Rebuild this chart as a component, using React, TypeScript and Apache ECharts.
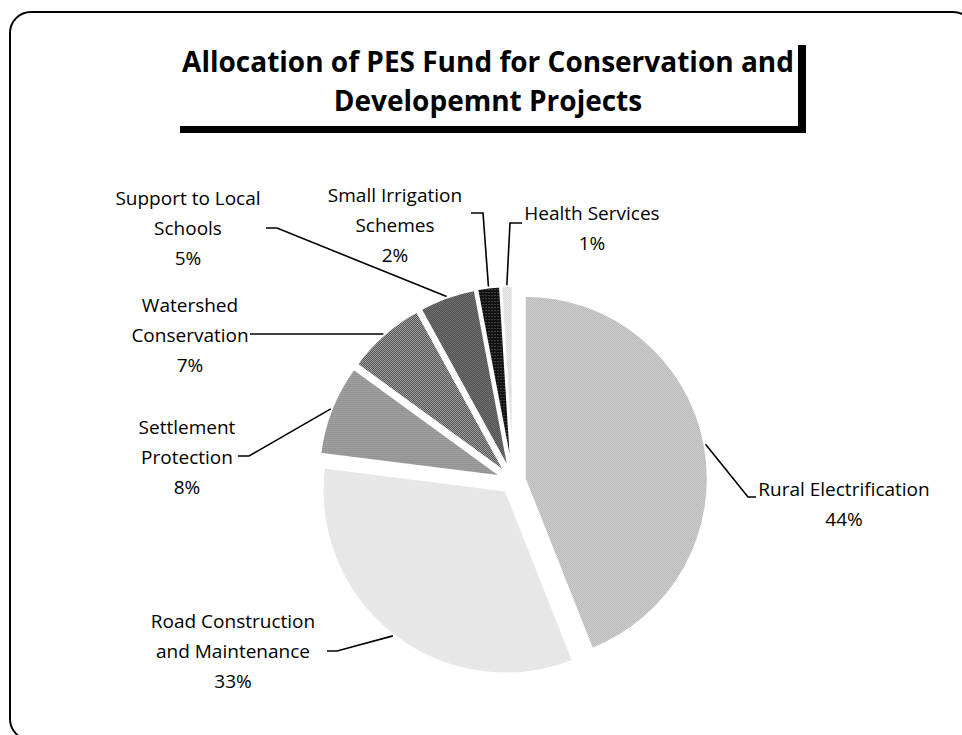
import React, { useEffect, useRef } from 'react';
import * as echarts from 'echarts';

// ---- data ----
const categories = [
  'Rural Electrification',
  'Road Construction and Maintenance',
  'Settlement Protection',
  'Watershed Conservation',
  'Support to Local Schools',
  'Small Irrigation Schemes',
  'Health Services',
];
const labelTexts = [
  'Rural Electrification',
  'Road Construction\nand Maintenance',
  'Settlement\nProtection',
  'Watershed\nConservation',
  'Support to Local\nSchools',
  'Small Irrigation\nSchemes',
  'Health Services',
];
const values = [44, 33, 8, 7, 5, 2, 1];
const titleText = 'Allocation of PES Fund for Conservation and\nDevelopemnt Projects';

// ---- layout (not data) ----
const CX = 513;
const CY = 481;
const R = 183;
const OFFSET = 12;
// label centre, attach point at the label, elbow of leader line
const labelCenter = [
  [844, 504], [233, 651], [187, 457], [190, 335], [188, 228], [395, 225], [592, 228],
];
const labelAttach = [
  [756, 497], [327, 651], [238, 456], [250, 334], [266, 228], [471, 213], [522, 223],
];
const labelElbow = [
  [748, 497], [337, 651], [249, 456], [261, 334], [277, 228], [483, 213], [510, 223],
];

// pixel pattern tiles for each slice
const tiles: string[][][] = [
  [['#9a9a9a', '#ededed'], ['#ededed', '#9a9a9a']],
  [['#cfcfcf', '#ffffff'], ['#ffffff', '#cfcfcf']],
  [['#777777', '#777777'], ['#bbbbbb', '#bbbbbb']],
  [['#4f4f4f', '#a5a5a5'], ['#a5a5a5', '#4f4f4f']],
  [['#2e2e2e', '#949494'], ['#949494', '#2e2e2e']],
  [['#111111', '#111111', '#111111'], ['#111111', '#777777', '#111111'], ['#111111', '#111111', '#111111']],
  [['#c4c4c4', '#ffffff'], ['#ffffff', '#c4c4c4']],
];

function makePattern(cells: string[][]) {
  const h = cells.length;
  const w = cells[0].length;
  const c = document.createElement('canvas');
  c.width = w;
  c.height = h;
  const ctx = c.getContext('2d')!;
  for (let y = 0; y < h; y++) {
    for (let x = 0; x < w; x++) {
      ctx.fillStyle = cells[y][x];
      ctx.fillRect(x, y, 1, 1);
    }
  }
  return { image: c, repeat: 'repeat', imageWidth: w, imageHeight: h } as any;
}

export default function App() {
  const ref = useRef<HTMLDivElement>(null);
  useEffect(() => {
    document.body.style.margin = '0';
    const chart = echarts.init(ref.current!, null, { renderer: 'svg' });
    const patterns = tiles.map(makePattern);
    const total = values.reduce((a, b) => a + b, 0);
    let acc = 0;
    const starts = values.map((v) => {
      const a0 = (acc / total) * Math.PI * 2;
      acc += v;
      const a1 = (acc / total) * Math.PI * 2;
      const mid = (a0 + a1) / 2;
      const d = R + OFFSET + 1;
      return [CX + d * Math.sin(mid), CY - d * Math.cos(mid)];
    });

    const font = { fontFamily: 'Open Sans', fontSize: 19 };
    const labelEls: any[] = [];
    values.forEach((v, i) => {
      labelEls.push({
        type: 'text',
        z: 20,
        style: {
          text: labelTexts[i] + '\n' + v + '%',
          x: labelCenter[i][0],
          y: labelCenter[i][1],
          fill: '#000',
          ...font,
          lineHeight: 30,
          textAlign: 'center',
          textVerticalAlign: 'middle',
          align: 'center',
          verticalAlign: 'middle',
        },
      });
      labelEls.push({
        type: 'polyline',
        z: 20,
        shape: { points: [starts[i], labelElbow[i], labelAttach[i]] },
        style: { stroke: '#000', lineWidth: 1.6, fill: 'none' },
      });
    });

    chart.setOption({
      animation: false,
      backgroundColor: '#ffffff',
      series: [
        {
          type: 'pie',
          center: [CX, CY],
          radius: R,
          startAngle: 90,
          clockwise: true,
          selectedMode: 'multiple',
          selectedOffset: OFFSET,
          avoidLabelOverlap: false,
          label: { show: false },
          labelLine: { show: false },
          itemStyle: { borderColor: '#ffffff', borderWidth: 2 },
          emphasis: { disabled: true },
          select: { itemStyle: { borderColor: '#ffffff', borderWidth: 2 } },
          data: categories.map((name, i) => ({
            name,
            value: values[i],
            selected: true,
            itemStyle: { color: patterns[i] },
            select: { itemStyle: { color: patterns[i] } },
          })),
        },
      ],
      graphic: {
        elements: [
          {
            type: 'rect',
            z: 1,
            shape: { x: 10, y: 12, width: 964, height: 728, r: 21 },
            style: { fill: 'none', stroke: '#000', lineWidth: 2 },
          },
          {
            type: 'rect',
            z: 5,
            shape: { x: 180, y: 45, width: 626, height: 88 },
            style: { fill: '#000' },
          },
          {
            type: 'rect',
            z: 6,
            shape: { x: 165, y: 30, width: 633, height: 96 },
            style: { fill: '#fff' },
          },
          {
            type: 'text',
            z: 7,
            style: {
              text: titleText,
              x: 488,
              y: 80,
              fill: '#000',
              fontFamily: 'Open Sans',
              fontWeight: 'bold',
              fontSize: 28,
              lineHeight: 39,
              textAlign: 'center',
              textVerticalAlign: 'middle',
              align: 'center',
              verticalAlign: 'middle',
            },
          },
          ...labelEls,
        ],
      },
    });
    return () => chart.dispose();
  }, []);
  return <div ref={ref} style={{ width: 962, height: 735 }} />;
}
